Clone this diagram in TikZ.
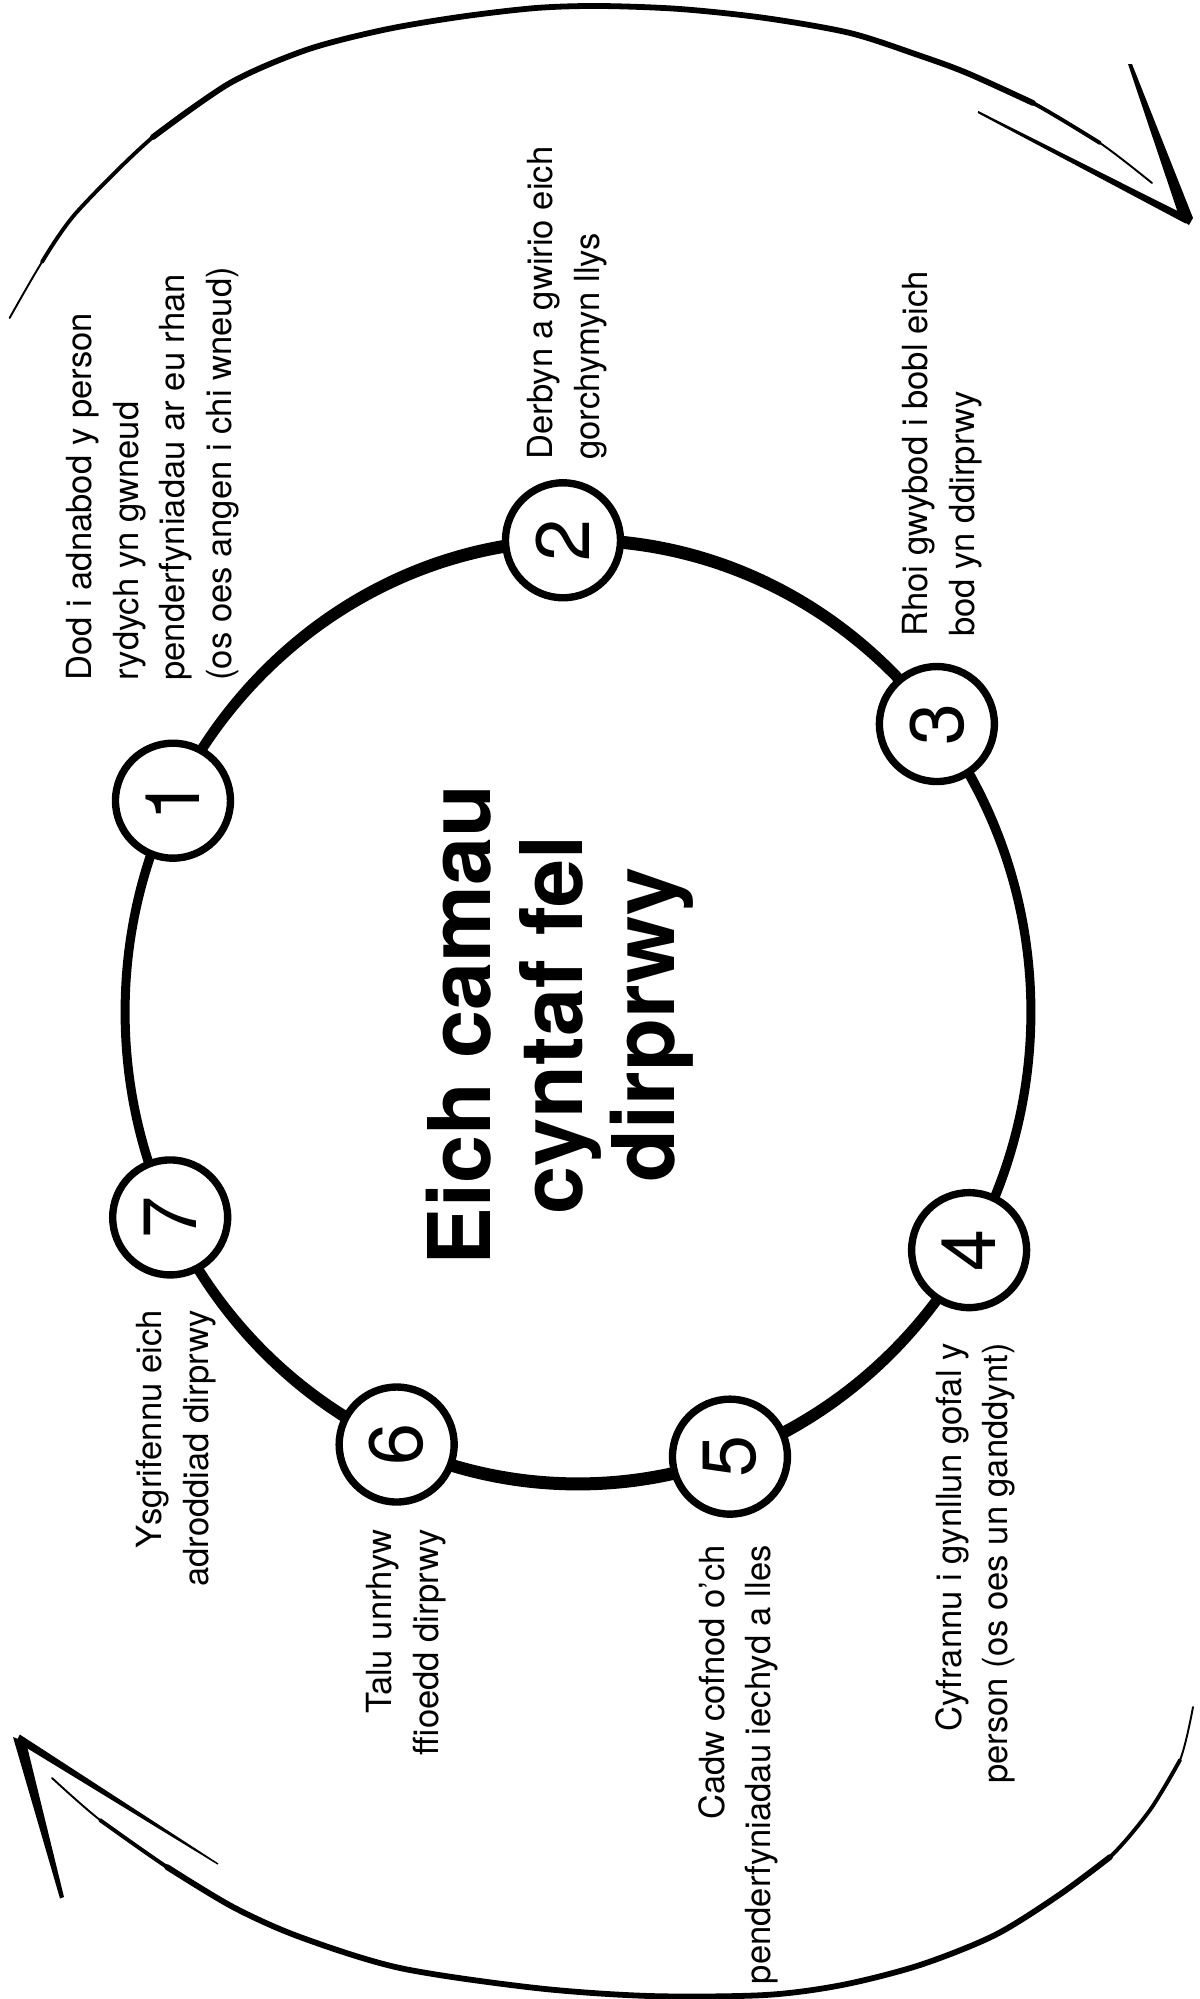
\documentclass[tikz,border=0pt]{standalone}
\usepackage{fontspec}
\setmainfont{TeX Gyre Heros}
\usetikzlibrary{calc}
\begin{document}
\begin{tikzpicture}[x=0.02cm,y=0.02cm,
  lbl/.style={rotate=90, inner sep=0pt, font=\fontsize{19.7}{26.5}\selectfont},
  lblL/.style={lbl, align=left, anchor=north west},
  lblR/.style={lbl, align=right, anchor=north east},
  num/.style={circle, draw, fill=white, line width=4.2pt, minimum size=2.3cm, inner sep=0pt, font=\fontsize{43}{43}\selectfont, rotate=90},
  titlebox/.style={rotate=90, align=center, inner sep=0pt, font=\bfseries\fontsize{49.2}{52.4}\selectfont},
  sketch/.style={line cap=round, line join=round}
]
\useasboundingbox (0,0) rectangle (1200,-1999);
\fill[white] (0,0) rectangle (1200,-1999);

% main ring
\coordinate (c) at (578,-1012);
\fill[even odd rule] (c) ellipse [x radius=9.15cm, y radius=9.57cm] (c) ellipse [x radius=8.97cm, y radius=9.31cm];

% step circles
\node[num] (n1) at ($(c)+(153.4:453 and 472)$) {1};
\node[num] (n2) at ($(c)+(91.9:453 and 472)$) {2};
\node[num] (n3) at ($(c)+(37.6:453 and 472)$) {3};
\node[num] (n4) at ($(c)+(-30.3:453 and 472)$) {4};
\node[num] (n5) at ($(c)+(-70.4:453 and 472)$) {5};
\node[num] (n6) at ($(c)+(-113.6:453 and 472)$) {6};
\node[num] (n7) at ($(c)+(-154.2:453 and 472)$) {7};

% title
\node[titlebox] (t) at (559.5,-1025) {Eich camau\\cyntaf fel\\dirprwy};

% labels
\node[lblL] (l1) at (66,-681) {Dod i adnabod y person\\rydych yn gwneud\\penderfyniadau ar eu rhan\\(os oes angen i chi wneud)};
\node[lblL] (l2) at (527,-460) {Derbyn a gwirio eich\\gorchymyn llys};
\node[lblL] (l3) at (902,-637) {Rhoi gwybod i bobl eich\\bod yn ddirprwy};
\node[lblR] (l4) at (935,-1343) {Cyfrannu i gynllun gofal y\\person (os oes un ganddynt)};
\node[lblR] (l5) at (698,-1545) {Cadw cofnod o'ch\\penderfyniadau iechyd a lles};
\node[lblR] (l6) at (366,-1529) {Talu unrhyw\\ffioedd dirprwy};
\node[lblR] (l7) at (136,-1310) {Ysgrifennu eich\\adroddiad dirprwy};

% top sketchy arrow
\draw[sketch, line width=1.1pt] plot[smooth] coordinates {(9.6,-318) (42,-262) (76,-213) (153,-137) (230,-83) (306,-50) (383,-30) (459,-17) (536,-8) (600,-6) (680,-9) (765,-18) (850,-33) (918,-55) (967,-73) (1033,-103) (1100,-143) (1152,-183)};
\draw[sketch, line width=2.2pt] plot[smooth] coordinates {(42,-262) (76,-213) (153,-137) (230,-83) (306,-50) (383,-30) (459,-17) (536,-8) (600,-6) (680,-9) (765,-18) (850,-33) (918,-55) (967,-73) (1033,-103) (1100,-143)};
\draw[sketch, line width=3.3pt] plot[smooth] coordinates {(153,-137) (230,-83) (306,-50) (383,-30) (459,-17) (536,-8) (600,-6) (680,-9) (765,-18) (850,-33) (918,-55) (967,-73) (1033,-103)};
\fill (1128,-64) -- (1132,-64) -- (1193,-218) -- (1189,-225) -- (1180,-219) -- cycle;
\fill (978.3,-111) -- (1188.5,-216.5) -- (1185.5,-223.5) -- (977.7,-113) -- cycle;

% bottom sketchy arrow
\draw[sketch, line width=1.1pt] plot[smooth] coordinates {(1193,-1707) (1180,-1760) (1150,-1810) (1110,-1857) (1059,-1895) (995,-1935) (920,-1965) (842,-1985) (765,-1995) (650,-1996) (536,-1988) (400,-1968) (300,-1937) (233,-1907) (167,-1867) (100,-1820) (52,-1778)};
\draw[sketch, line width=2.2pt] plot[smooth] coordinates {(1180,-1760) (1150,-1810) (1110,-1857) (1059,-1895) (995,-1935) (920,-1965) (842,-1985) (765,-1995) (650,-1996) (536,-1988) (400,-1968) (300,-1937) (233,-1907) (167,-1867) (100,-1820)};
\draw[sketch, line width=3.3pt] plot[smooth] coordinates {(1110,-1857) (1059,-1895) (995,-1935) (920,-1965) (842,-1985) (765,-1995) (650,-1996) (536,-1988) (400,-1968) (300,-1937) (233,-1907) (167,-1867)};
\fill (13,-1737) -- (26,-1742) -- (64,-1897) -- (60,-1898.5) -- cycle;
\fill (19.8,-1734.5) -- (218.4,-1863.4) -- (217.6,-1864.6) -- (16.2,-1741.5) -- cycle;
\end{tikzpicture}
\end{document}
